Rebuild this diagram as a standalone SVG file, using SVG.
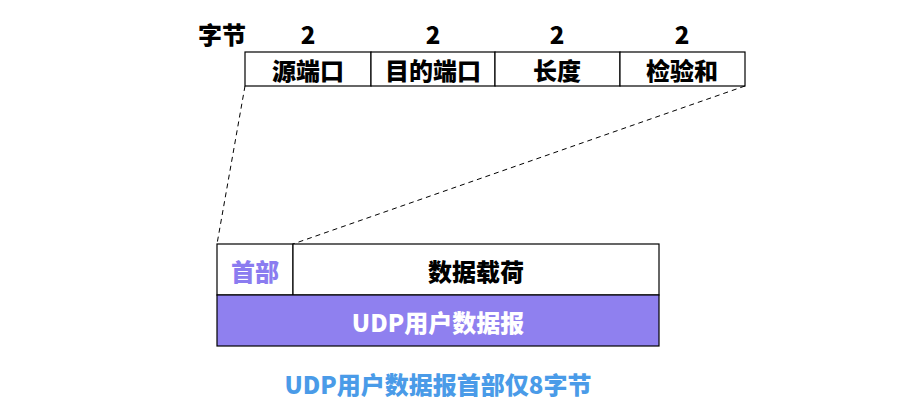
<svg xmlns="http://www.w3.org/2000/svg" width="912" height="419" viewBox="0 0 912 419">
<style>
text{font-family:"Noto Sans CJK SC","Noto Sans",sans-serif;font-weight:900;font-size:24px;text-anchor:middle;dominant-baseline:central}
.box{fill:#fff;stroke:#000;stroke-width:1.2}
.dash{fill:none;stroke:#000;stroke-width:1;stroke-dasharray:5,4}
</style>
<rect width="912" height="419" fill="#fff"/>
<text x="222" y="33">字节</text>
<text x="308" y="33">2</text>
<text x="433" y="33">2</text>
<text x="557" y="33">2</text>
<text x="682" y="33">2</text>
<g id="src"><rect class="box" x="245" y="52" width="126" height="34"/><text x="308" y="69">源端口</text></g>
<g id="dst"><rect class="box" x="371" y="52" width="124" height="34"/><text x="433" y="69">目的端口</text></g>
<g id="len"><rect class="box" x="495" y="52" width="125" height="34"/><text x="557" y="69">长度</text></g>
<g id="chk"><rect class="box" x="620" y="52" width="125" height="34"/><text x="682" y="69">检验和</text></g>
<g id="connectors">
<line class="dash" x1="245" y1="86" x2="217" y2="244"/>
<line class="dash" x1="745" y1="86" x2="293" y2="244"/>
</g>
<g id="header"><rect class="box" x="217" y="244" width="76" height="51"/><text x="255" y="270" fill="#8B7CF0">首部</text></g>
<g id="payload"><rect class="box" x="293" y="244" width="366" height="51"/><text x="476" y="270">数据载荷</text></g>
<g id="datagram"><rect x="217" y="295" width="442" height="51" fill="#8F80EF" stroke="#000" stroke-width="1.2"/><text x="438" y="321" fill="#fff">UDP用户数据报</text></g>
<text x="438" y="383" fill="#4A9BE8">UDP用户数据报首部仅8字节</text>
</svg>
